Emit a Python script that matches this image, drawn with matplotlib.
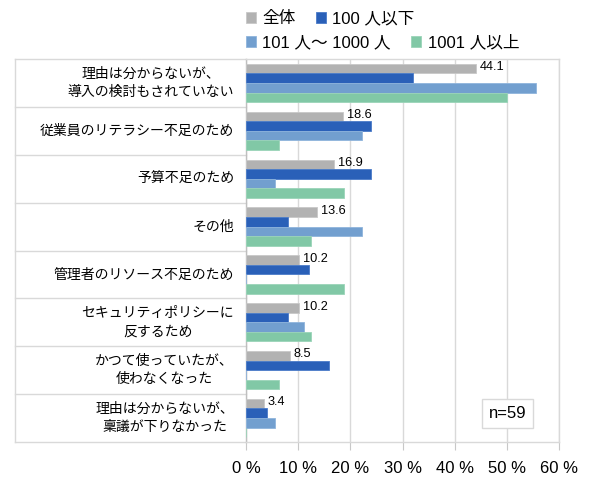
import matplotlib.pyplot as plt
import numpy as np
from matplotlib.transforms import blended_transform_factory

plt.rcParams['font.family'] = ['Liberation Sans', 'Noto Sans CJK JP']

categories = [
    "理由は分からないが、\n導入の検討もされていない",
    "従業員のリテラシー不足のため",
    "予算不足のため",
    "その他",
    "管理者のリソース不足のため",
    "セキュリティポリシーに\n反するため",
    "かつて使っていたが、\n使わなくなった",
    "理由は分からないが、\n稟議が下りなかった",
]
series_names = ["全体", "100 人以下", "101 人〜 1000 人", "1001 人以上"]
all_total = [44.1, 18.6, 16.9, 13.6, 10.2, 10.2, 8.5, 3.4]
small = [32.0, 24.0, 24.0, 8.0, 12.0, 8.0, 16.0, 4.0]
mid = [55.6, 22.2, 5.6, 22.2, 0.0, 11.1, 0.0, 5.6]
large = [50.0, 6.3, 18.8, 12.5, 18.8, 12.5, 6.3, 0.0]
colors = ["#b2b2b2", "#2a60b8", "#729fcf", "#81c8a6"]
edges = ["#c8c8c8", "#4a7bc8", "#8fb4dc", "#9ad4b8"]

fig = plt.figure(figsize=(5.9, 4.92), dpi=100)
ax = fig.add_axes([246 / 590, 50 / 492, 313 / 590, 383 / 492])

y = np.arange(len(categories))
h = 0.2
data = [all_total, small, mid, large]
bars = []
for i, vals in enumerate(data):
    b = ax.barh(y - 0.3 + i * h, vals, height=h, color=colors[i],
                edgecolor=edges[i], linewidth=0.6, zorder=3, label=series_names[i])
    bars.append(b)

for yi, v in zip(y, all_total):
    ax.text(v + 0.7, yi - 0.33, f"{v:.1f}", fontsize=9.2, va='center', ha='left', zorder=4)

ax.set_xlim(0, 60)
ax.set_ylim(len(categories) - 0.5, -0.5)
ax.set_xticks(np.arange(0, 61, 10))
ax.set_xticklabels([f"{t} %" for t in range(0, 61, 10)], fontsize=12)
ax.set_yticks([])
ax.grid(axis='x', color='#d9d9d9', linewidth=1, zorder=0)
ax.tick_params(axis='x', length=6, color='#c8c8c8', pad=8)
for s in ax.spines.values():
    s.set_color('#d9d9d9')
    s.set_linewidth(1)
ax.spines['left'].set_color('#bfbfbf')

# label column with separators
trans = blended_transform_factory(ax.transAxes, ax.transData)
x_left = (15 - 246) / 313
for b in np.arange(-0.5, len(categories) + 0.5, 1):
    ax.plot([x_left, 0], [b, b], transform=trans, color='#d9d9d9',
            linewidth=1, clip_on=False)
ax.plot([x_left, x_left], [-0.5, len(categories) - 0.5], transform=trans,
        color='#d9d9d9', linewidth=1, clip_on=False)
x_text = (234 - 246) / 313
for yi, c in zip(y, categories):
    ax.text(x_text, yi, c, transform=trans, ha='right', va='center',
            multialignment='center', fontsize=10, linespacing=1.35)

ax.text(0.835, 0.074, "n=59", transform=ax.transAxes, ha='center', va='center',
        fontsize=12, bbox=dict(boxstyle='square,pad=0.4', fc='white', ec='#d9d9d9'))

fig.legend(handles=bars[:2], loc='center left', bbox_to_anchor=(239 / 590, 0.962),
           ncol=2, frameon=False, fontsize=12, handlelength=0.6, handleheight=0.6,
           handletextpad=0.4, columnspacing=1.2, borderaxespad=0)
fig.legend(handles=bars[2:], loc='center left', bbox_to_anchor=(239 / 590, 0.914),
           ncol=2, frameon=False, fontsize=12, handlelength=0.6, handleheight=0.6,
           handletextpad=0.4, columnspacing=1.2, borderaxespad=0)

fig.savefig("out.png", dpi=100)
